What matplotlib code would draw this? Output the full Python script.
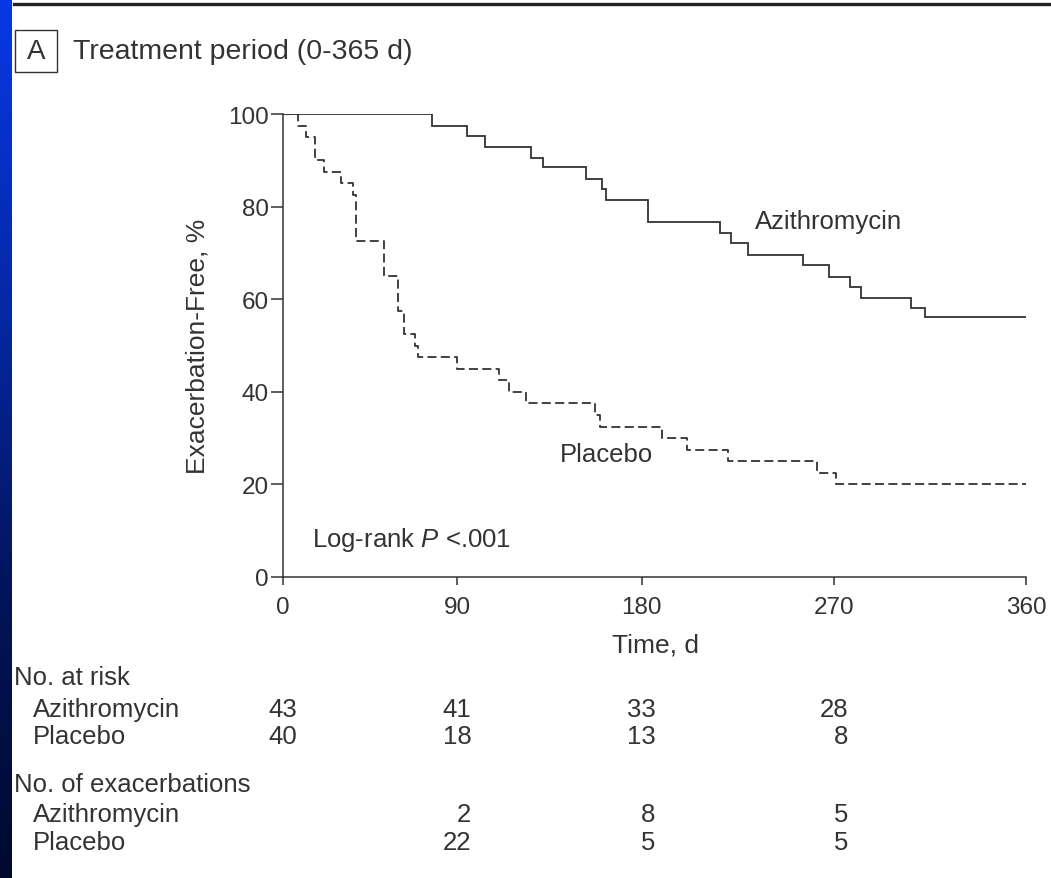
import numpy as np
import matplotlib
matplotlib.use("Agg")
import matplotlib.pyplot as plt
from matplotlib import transforms
from matplotlib.colors import LinearSegmentedColormap
from matplotlib.patches import Rectangle
from matplotlib.lines import Line2D

# ---------------- data ----------------
azi_days = [0, 77, 94.6, 103.5, 126, 132, 152.7, 160.8, 162.4, 182.8, 216.6, 221.8,
            229.9, 255.4, 267.7, 277.5, 282.7, 306, 312.7, 360]
azi_surv = [100, 97.5, 95.3, 92.8, 90.6, 88.5, 86.0, 83.8, 81.5, 76.7, 74.2, 72.1,
            69.5, 67.4, 64.9, 62.7, 60.3, 58.2, 56.1, 56.1]

pla_days = [0, 7.8, 11.7, 16.4, 21.2, 29.8, 35.9, 37.6, 52.2, 59.5, 62.4, 68.1, 69.8,
            89.7, 110.5, 115.4, 123.5, 157.2, 159.7, 189.4, 201.1, 220.5, 262.2, 270.8, 360]
pla_surv = [100, 97.5, 95.0, 90.0, 87.5, 85.0, 82.5, 72.5, 65.0, 57.5, 52.5, 50.0, 47.5,
            45.0, 42.5, 40.0, 37.5, 35.0, 32.5, 30.0, 27.5, 25.0, 22.5, 20.0, 20.0]

x_ticks = [0, 90, 180, 270, 360]
y_ticks = [0, 20, 40, 60, 80, 100]

risk_days = [0, 90, 180, 270]
risk_azi = ["43", "41", "33", "28"]
risk_pla = ["40", "18", "13", "8"]

exac_days = [90, 180, 270]
exac_azi = ["2", "8", "5"]
exac_pla = ["22", "5", "5"]

# ---------------- style ----------------
W, H = 1051, 879
DPI = 100
INK = "#333333"
FONT = ["Liberation Sans", "DejaVu Sans"]
plt.rcParams["font.family"] = FONT
plt.rcParams["mathtext.fontset"] = "custom"
plt.rcParams["mathtext.it"] = "Liberation Sans:italic"
plt.rcParams["mathtext.rm"] = "Liberation Sans"

fig = plt.figure(figsize=(W / DPI, H / DPI), dpi=DPI)
fig.patch.set_facecolor("white")


def fx(px):
    return px / W


def fy(py):
    return 1 - py / H


# blue gradient strip at left
sax = fig.add_axes([0, 0, fx(12), 1])
cmap = LinearSegmentedColormap.from_list(
    "strip", [(0.03, 0.22, 0.90), (0.02, 0.16, 0.66), (0.01, 0.08, 0.36), (0.0, 0.04, 0.18)])
sax.imshow(np.linspace(0, 1, 256).reshape(-1, 1), aspect="auto", cmap=cmap,
           extent=[0, 1, 0, 1], origin="upper")
sax.set_axis_off()

# top rule
fig.add_artist(Line2D([fx(14), 1], [fy(5), fy(5)], transform=fig.transFigure,
                      color="#222222", lw=2.4))

# panel letter box + title
fig.add_artist(Rectangle((fx(15), fy(73)), fx(42), 42 / H, transform=fig.transFigure,
                         fill=False, ec=INK, lw=1.0))
fig.text(fx(36), fy(52), "A", ha="center", va="center", fontsize=20, color=INK)
fig.text(fx(73), fy(52), "Treatment period (0-365 d)", ha="left", va="center",
         fontsize=20.5, color=INK)

# main axes with scale matching reference tick spacing
warp_days = [0, 90, 180, 270, 360]
warp_pos = [0, 174, 358.4, 550.7, 742.7]


def fwd(x):
    return np.interp(x, warp_days, warp_pos)


def inv(x):
    return np.interp(x, warp_pos, warp_days)


left, right, top, bottom = 283.3, 1026, 115, 578
ax = fig.add_axes([fx(left), fy(bottom), fx(right - left), (bottom - top) / H])
ax.set_xscale("function", functions=(fwd, inv))
ax.set_xlim(0, 360)
ax.set_ylim(0, 100)

ax.step(azi_days, azi_surv, where="post", color=INK, lw=1.3, solid_joinstyle="miter")
ax.step(pla_days, pla_surv, where="post", color=INK, lw=1.3, dashes=(5, 2.4))

for s in ["top", "right"]:
    ax.spines[s].set_visible(False)
for s in ["left", "bottom"]:
    ax.spines[s].set_color(INK)
    ax.spines[s].set_linewidth(1.1)

ax.set_xticks(x_ticks)
ax.set_xticklabels([str(t) for t in x_ticks])
ax.set_yticks(y_ticks)
ax.set_yticklabels([str(t) for t in y_ticks])
ax.minorticks_off()
ax.tick_params(axis="x", direction="out", length=6, width=1.1, color=INK, pad=8,
               labelsize=17.5, labelcolor=INK)
ax.tick_params(axis="y", direction="out", length=8.5, width=1.1, color=INK, pad=2,
               labelsize=17.5, labelcolor=INK)

ax.text(233, 76.9, "Azithromycin", ha="left", va="center", fontsize=18.5, color=INK)
ax.text(140, 26.6, "Placebo", ha="left", va="center", fontsize=18.5, color=INK)
ax.text(14.8, 8.2, "Log-rank $P$ <.001", ha="left", va="center", fontsize=18.5, color=INK)

# axis labels
fig.text(fx(197), fy(346), "Exacerbation-Free, %", rotation=90, ha="center", va="center",
         fontsize=19, color=INK)
fig.text(fx(655), fy(645), "Time, d", ha="center", va="center", fontsize=19, color=INK)

# table below
fs_tab = 18.5
fig.text(fx(14), fy(678), "No. at risk", ha="left", va="center", fontsize=fs_tab, color=INK)
fig.text(fx(33), fy(710), "Azithromycin", ha="left", va="center", fontsize=fs_tab, color=INK)
fig.text(fx(33), fy(737), "Placebo", ha="left", va="center", fontsize=fs_tab, color=INK)
fig.text(fx(14), fy(785), "No. of exacerbations", ha="left", va="center", fontsize=fs_tab,
         color=INK)
fig.text(fx(33), fy(815), "Azithromycin", ha="left", va="center", fontsize=fs_tab, color=INK)
fig.text(fx(33), fy(843), "Placebo", ha="left", va="center", fontsize=fs_tab, color=INK)

blend = transforms.blended_transform_factory(ax.transData, fig.transFigure)
shift = transforms.ScaledTranslation(14 / DPI, 0, fig.dpi_scale_trans)
tr = blend + shift


def row(days, vals, py):
    for d, v in zip(days, vals):
        fig.text(d, fy(py), v, transform=tr, ha="right", va="center", fontsize=fs_tab,
                 color=INK)


row(risk_days, risk_azi, 710)
row(risk_days, risk_pla, 737)
row(exac_days, exac_azi, 815)
row(exac_days, exac_pla, 843)

fig.savefig("out.png", dpi=DPI, facecolor="white")
